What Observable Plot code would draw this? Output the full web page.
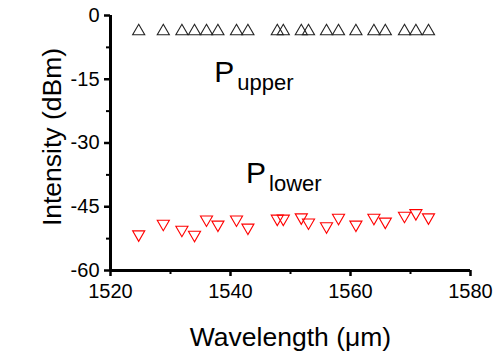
<!DOCTYPE html>
<html><head><meta charset="utf-8">
<script src="https://cdn.jsdelivr.net/npm/d3@7"></script>
<script src="https://cdn.jsdelivr.net/npm/@observablehq/plot@0.6"></script>
<style>
body{margin:0;background:#fff}
#chart svg{font-family:"Liberation Sans", Arial, sans-serif; background:#fff}
</style>
</head><body><div id="chart"></div>
<script>
// Channel wavelengths (nm as labelled on the axis)
const wavelength = [1524.7, 1528.8, 1531.9, 1534.0, 1536.0, 1537.9, 1541.0, 1542.9, 1547.8, 1548.8,
                    1551.8, 1553.0, 1556.0, 1558.0, 1560.9, 1563.9, 1565.8, 1569.0, 1570.9, 1573.0];
// Upper-level intensity (dBm)
const pUpper = [-3.7, -3.7, -3.7, -3.7, -3.7, -3.7, -3.7, -3.7, -3.7, -3.7,
                -3.7, -3.7, -3.7, -3.7, -3.7, -3.7, -3.7, -3.7, -3.7, -3.7];
// Lower-level intensity (dBm)
const pLower = [-51.5, -49.0, -50.4, -51.6, -48.0, -49.2, -48.0, -49.9, -47.8, -47.8,
                -47.5, -48.7, -49.6, -47.6, -49.2, -47.6, -48.5, -47.1, -46.5, -47.5];

const xTicks = [1520, 1540, 1560, 1580];
const xMinorTicks = [1530, 1550, 1570];
const yTicks = [0, -15, -30, -45, -60];
const yMinorTicks = [-7.5, -22.5, -37.5, -52.5];

const labelMain = ["P", "P"];
const labelSub = ["upper", "lower"];
const labelX = [1537.3, 1542.6];
const labelY = [-15.7, -39.3];

const upperData = wavelength.map((w, i) => ({w, v: pUpper[i]}));
const lowerData = wavelength.map((w, i) => ({w, v: pLower[i]}));
const labelData = labelMain.map((m, i) => ({m, s: labelSub[i], x: labelX[i], y: labelY[i]}));

const font = "Liberation Sans, Arial, sans-serif";

const chart = Plot.plot({
  width: 504,
  height: 359,
  marginLeft: 110,
  marginRight: 34,
  marginTop: 15,
  marginBottom: 89,
  style: {fontFamily: font, background: "#fff", color: "#000"},
  x: {domain: [1520, 1580]},
  y: {domain: [-60, 0]},
  marks: [
    Plot.axisX(xMinorTicks, {tickSize: 4, strokeWidth: 2, tickFormat: () => "", label: null}),
    Plot.axisY(yMinorTicks, {tickSize: 4, strokeWidth: 2, tickFormat: () => "", label: null}),
    Plot.axisX(xTicks, {tickSize: 6, tickPadding: 7, strokeWidth: 2.5, fontSize: 20, label: null, tickFormat: d => String(d)}),
    Plot.axisY(yTicks, {tickSize: 6, tickPadding: 5, strokeWidth: 2.5, fontSize: 20, label: null, tickFormat: d => String(d)}),
    Plot.ruleY([-60], {strokeWidth: 3}),
    Plot.ruleX([1520], {strokeWidth: 3}),
    Plot.dot(upperData, {x: "w", y: "v", symbol: "triangle", r: 4.5, stroke: "#222", strokeWidth: 1.1, fill: "none"}),
    Plot.dot(lowerData, {x: "w", y: "v", symbol: "triangle", rotate: 180, r: 4.5, stroke: "#ff0000", strokeWidth: 1.1, fill: "none"}),
    Plot.text(labelData, {x: "x", y: "y", text: "m", textAnchor: "start", lineAnchor: "bottom", fontSize: 30, fill: "#000"}),
    Plot.text(labelData, {x: "x", y: "y", text: "s", textAnchor: "start", lineAnchor: "bottom", fontSize: 22, dx: 23, dy: 8, fill: "#000"}),
    Plot.text(["Wavelength (\u03bcm)"], {frameAnchor: "bottom", textAnchor: "middle", lineAnchor: "bottom", dy: 75, fontSize: 26.5, fill: "#000"}),
    Plot.text(["Intensity (dBm)"], {frameAnchor: "left", textAnchor: "middle", lineAnchor: "middle", rotate: -90, dx: -58, dy: -6, fontSize: 26.5, fill: "#000"})
  ]
});
document.getElementById("chart").appendChild(chart);
</script>
</body></html>
